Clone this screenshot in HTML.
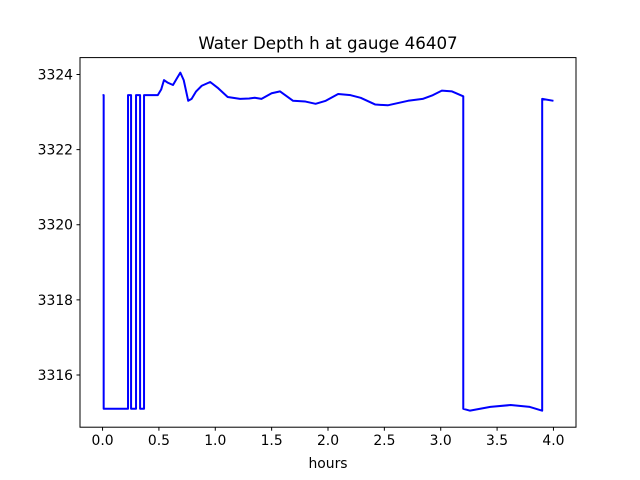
<!DOCTYPE html>
<html><head><meta charset="utf-8"><style>
body{margin:0;background:#fff;}
svg{display:block;font-family:"DejaVu Sans","Liberation Sans",sans-serif;}
</style></head><body>
<svg id="chart" width="640" height="480" viewBox="0 0 640 480">
<rect width="640" height="480" fill="#fff"/>
<text x="328" y="49" font-size="16.7" text-anchor="middle">Water Depth h at gauge 46407</text>
<g id="plot"></g>
<rect x="80" y="57.6" width="496" height="369.6" fill="none" stroke="#000" stroke-width="1"/>
<text x="328" y="468" font-size="13.9" text-anchor="middle">hours</text>
</svg>
<script>
const xTicks=[0,0.5,1,1.5,2,2.5,3,3.5,4];
const xTickLabels=["0.0","0.5","1.0","1.5","2.0","2.5","3.0","3.5","4.0"];
const yTicks=[3316,3318,3320,3322,3324];
const yTickLabels=["3316","3318","3320","3322","3324"];
const times=[0,0.01,0.01,0.226,0.226,0.253,0.253,0.297,0.297,0.333,0.333,0.368,0.368,0.49,0.52,0.545,0.58,0.625,0.66,0.69,0.72,0.76,0.79,0.83,0.88,0.955,1.02,1.11,1.22,1.3,1.35,1.41,1.5,1.575,1.69,1.8,1.89,1.98,2.09,2.2,2.29,2.42,2.53,2.71,2.84,2.93,3.01,3.1,3.2,3.2,3.26,3.44,3.62,3.79,3.9,3.9,4.0];
const depth=[3323.45,3323.45,3315.1,3315.1,3323.45,3323.45,3315.1,3315.1,3323.45,3323.45,3315.1,3315.1,3323.45,3323.45,3323.6,3323.85,3323.78,3323.72,3323.9,3324.05,3323.85,3323.3,3323.35,3323.55,3323.7,3323.8,3323.65,3323.4,3323.35,3323.36,3323.38,3323.35,3323.5,3323.55,3323.3,3323.28,3323.22,3323.3,3323.48,3323.45,3323.38,3323.2,3323.18,3323.3,3323.35,3323.45,3323.57,3323.55,3323.42,3315.1,3315.05,3315.15,3315.2,3315.15,3315.05,3323.35,3323.3];
const X0=80,X1=576,Y0=427.2,Y1=57.6,xmin=-0.2,xmax=4.2,ymin=3314.61,ymax=3324.45;
const sx=v=>X0+(v-xmin)/(xmax-xmin)*(X1-X0);
const sy=v=>Y0-(v-ymin)/(ymax-ymin)*(Y0-Y1);
const ns="http://www.w3.org/2000/svg";
const g=document.getElementById('plot');
xTicks.forEach((t,i)=>{
 const l=document.createElementNS(ns,'line');
 l.setAttribute('x1',sx(t));l.setAttribute('x2',sx(t));l.setAttribute('y1',Y0);l.setAttribute('y2',Y0+3.5);l.setAttribute('stroke','#000');
 
 
 g.appendChild(l);
 const tx=document.createElementNS(ns,'text');
 tx.setAttribute('x',sx(t));tx.setAttribute('y',Y0+18);tx.setAttribute('font-size','13.9');tx.setAttribute('text-anchor','middle');
 tx.textContent=xTickLabels[i];
 
 
 g.appendChild(tx);
});
yTicks.forEach((t,i)=>{
 const l=document.createElementNS(ns,'line');
 l.setAttribute('x1',X0-3.5);l.setAttribute('x2',X0);l.setAttribute('y1',sy(t));l.setAttribute('y2',sy(t));l.setAttribute('stroke','#000');
 
 
 g.appendChild(l);
 const tx=document.createElementNS(ns,'text');
 tx.setAttribute('x',X0-7);tx.setAttribute('y',sy(t)+5);tx.setAttribute('font-size','13.9');tx.setAttribute('text-anchor','end');
 tx.textContent=yTickLabels[i];
 
 
 g.appendChild(tx);
});
const p=document.createElementNS(ns,'polyline');
p.setAttribute('points',times.map((t,i)=>sx(t).toFixed(2)+','+sy(depth[i]).toFixed(2)).join(' '));
p.setAttribute('fill','none');p.setAttribute('stroke','#0000ff');p.setAttribute('stroke-width','2');p.setAttribute('stroke-linejoin','round');


g.appendChild(p);
</script>
</body></html>
